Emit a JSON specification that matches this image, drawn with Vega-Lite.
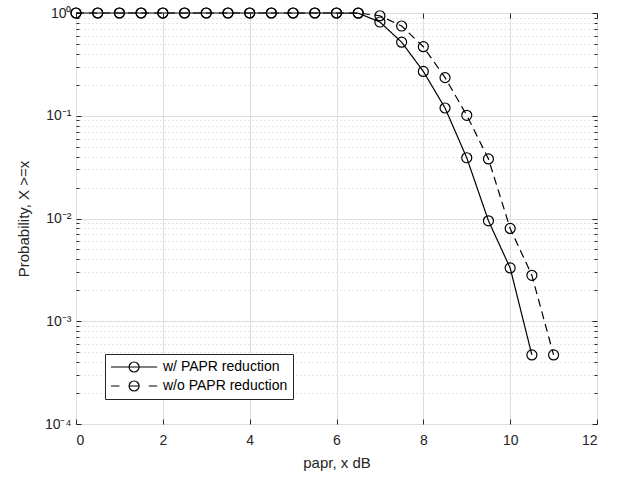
{
  "$schema": "https://vega.github.io/schema/vega-lite/v6.json",
  "width": 521,
  "height": 411,
  "autosize": {"type": "none"},
  "padding": {"left": 76, "top": 13, "right": 20, "bottom": 54},
  "config": {
    "font": "Liberation Sans",
    "view": {"stroke": "#262626", "strokeWidth": 1},
    "axis": {"labelColor": "#262626", "titleColor": "#262626", "tickColor": "#262626", "domain": false, "labelFont": "Liberation Sans", "titleFont": "Liberation Sans", "titleFontWeight": "normal", "labelFontSize": 14, "titleFontSize": 15}
  },
  "data": {"values": [
    {"x": 0, "p": 1, "series": "w/ PAPR reduction"},
    {"x": 0.5, "p": 1, "series": "w/ PAPR reduction"},
    {"x": 1, "p": 1, "series": "w/ PAPR reduction"},
    {"x": 1.5, "p": 1, "series": "w/ PAPR reduction"},
    {"x": 2, "p": 1, "series": "w/ PAPR reduction"},
    {"x": 2.5, "p": 1, "series": "w/ PAPR reduction"},
    {"x": 3, "p": 1, "series": "w/ PAPR reduction"},
    {"x": 3.5, "p": 1, "series": "w/ PAPR reduction"},
    {"x": 4, "p": 1, "series": "w/ PAPR reduction"},
    {"x": 4.5, "p": 1, "series": "w/ PAPR reduction"},
    {"x": 5, "p": 1, "series": "w/ PAPR reduction"},
    {"x": 5.5, "p": 1, "series": "w/ PAPR reduction"},
    {"x": 6, "p": 1, "series": "w/ PAPR reduction"},
    {"x": 6.5, "p": 0.995, "series": "w/ PAPR reduction"},
    {"x": 7, "p": 0.817, "series": "w/ PAPR reduction"},
    {"x": 7.5, "p": 0.52, "series": "w/ PAPR reduction"},
    {"x": 8, "p": 0.27, "series": "w/ PAPR reduction"},
    {"x": 8.5, "p": 0.119, "series": "w/ PAPR reduction"},
    {"x": 9, "p": 0.039, "series": "w/ PAPR reduction"},
    {"x": 9.5, "p": 0.0095, "series": "w/ PAPR reduction"},
    {"x": 10, "p": 0.0033, "series": "w/ PAPR reduction"},
    {"x": 10.5, "p": 0.00047, "series": "w/ PAPR reduction"},
    {"x": 0, "p": 1, "series": "w/o PAPR reduction"},
    {"x": 0.5, "p": 1, "series": "w/o PAPR reduction"},
    {"x": 1, "p": 1, "series": "w/o PAPR reduction"},
    {"x": 1.5, "p": 1, "series": "w/o PAPR reduction"},
    {"x": 2, "p": 1, "series": "w/o PAPR reduction"},
    {"x": 2.5, "p": 1, "series": "w/o PAPR reduction"},
    {"x": 3, "p": 1, "series": "w/o PAPR reduction"},
    {"x": 3.5, "p": 1, "series": "w/o PAPR reduction"},
    {"x": 4, "p": 1, "series": "w/o PAPR reduction"},
    {"x": 4.5, "p": 1, "series": "w/o PAPR reduction"},
    {"x": 5, "p": 1, "series": "w/o PAPR reduction"},
    {"x": 5.5, "p": 1, "series": "w/o PAPR reduction"},
    {"x": 6, "p": 1, "series": "w/o PAPR reduction"},
    {"x": 6.5, "p": 1, "series": "w/o PAPR reduction"},
    {"x": 7, "p": 0.94, "series": "w/o PAPR reduction"},
    {"x": 7.5, "p": 0.747, "series": "w/o PAPR reduction"},
    {"x": 8, "p": 0.47, "series": "w/o PAPR reduction"},
    {"x": 8.5, "p": 0.235, "series": "w/o PAPR reduction"},
    {"x": 9, "p": 0.101, "series": "w/o PAPR reduction"},
    {"x": 9.5, "p": 0.038, "series": "w/o PAPR reduction"},
    {"x": 10, "p": 0.008, "series": "w/o PAPR reduction"},
    {"x": 10.5, "p": 0.0028, "series": "w/o PAPR reduction"},
    {"x": 11, "p": 0.00047, "series": "w/o PAPR reduction"}
  ]},
  "resolve": {"scale": {"x": "independent", "y": "independent"}},
  "layer": [
    {
      "mark": {"type": "line", "opacity": 0},
      "encoding": {
        "x": {"field": "x", "type": "quantitative", "scale": {"domain": [0, 12], "nice": false, "zero": false},
          "axis": {"orient": "top", "values": [0, 2, 4, 6, 8, 10, 12], "labels": false, "grid": false, "tickSize": -5, "title": null}},
        "y": {"field": "p", "type": "quantitative", "scale": {"type": "log", "domain": [0.0001, 1], "nice": false},
          "axis": {"orient": "left", "values": [0.0002,0.0003,0.0004,0.0005,0.0006,0.0007,0.0008,0.0009,0.002,0.003,0.004,0.005,0.006,0.007,0.008,0.009,0.02,0.03,0.04,0.05,0.06,0.07,0.08,0.09,0.2,0.3,0.4,0.5,0.6,0.7,0.8,0.9],
            "labels": false, "grid": true, "gridColor": "#cccccc", "gridDash": [1, 3], "gridWidth": 1, "tickSize": -3, "title": null}},
        "detail": {"field": "series"}
      }
    },
    {
      "mark": {"type": "line", "opacity": 0},
      "encoding": {
        "x": {"field": "x", "type": "quantitative", "scale": {"domain": [0, 12], "nice": false, "zero": false}, "axis": null},
        "y": {"field": "p", "type": "quantitative", "scale": {"type": "log", "domain": [0.0001, 1], "nice": false},
          "axis": {"orient": "right", "values": [0.0002,0.0003,0.0004,0.0005,0.0006,0.0007,0.0008,0.0009,0.002,0.003,0.004,0.005,0.006,0.007,0.008,0.009,0.02,0.03,0.04,0.05,0.06,0.07,0.08,0.09,0.2,0.3,0.4,0.5,0.6,0.7,0.8,0.9],
            "labels": false, "grid": false, "tickSize": -3, "title": null}},
        "detail": {"field": "series"}
      }
    },
    {
      "mark": {"type": "line", "opacity": 0},
      "encoding": {
        "x": {"field": "x", "type": "quantitative", "scale": {"domain": [0, 12], "nice": false, "zero": false}, "axis": null},
        "y": {"field": "p", "type": "quantitative", "scale": {"type": "log", "domain": [0.0001, 1], "nice": false},
          "axis": {"orient": "right", "values": [0.0001, 0.001, 0.01, 0.1, 1], "labels": false, "grid": false, "tickSize": -5, "title": null}},
        "detail": {"field": "series"}
      }
    },
    {
      "mark": {"type": "line", "stroke": "black", "strokeWidth": 1.2},
      "encoding": {
        "x": {"field": "x", "type": "quantitative", "scale": {"domain": [0, 12], "nice": false, "zero": false},
          "axis": {"orient": "bottom", "values": [0, 2, 4, 6, 8, 10, 12], "grid": true, "gridColor": "#dedede", "tickSize": -5, "labelPadding": 14, "title": "papr, x dB", "titlePadding": 8}},
        "y": {"field": "p", "type": "quantitative", "scale": {"type": "log", "domain": [0.0001, 1], "nice": false},
          "axis": {"orient": "left", "values": [0.0001, 0.001, 0.01, 0.1, 1], "grid": true, "gridColor": "#dedede", "tickSize": -5, "labelPadding": 10,
            "labelExpr": "datum.value >= 0.5 ? '10⁰' : datum.value >= 0.05 ? '10⁻¹' : datum.value >= 0.005 ? '10⁻²' : datum.value >= 0.0005 ? '10⁻³' : '10⁻⁴'",
            "title": "Probability, X >=x", "titlePadding": 13}},
        "strokeDash": {"field": "series", "type": "nominal",
          "scale": {"domain": ["w/o PAPR reduction", "w/ PAPR reduction"], "range": [[8, 5], [1, 0]]},
          "legend": null}
      }
    },
    {
      "mark": {"type": "point", "filled": false, "stroke": "black", "opacity": 0},
      "encoding": {
        "x": {"field": "x", "type": "quantitative", "scale": {"domain": [0, 12], "nice": false, "zero": false}, "axis": null},
        "y": {"field": "p", "type": "quantitative", "scale": {"type": "log", "domain": [0.0001, 1], "nice": false}, "axis": null},
        "shape": {"field": "series", "type": "nominal",
          "scale": {"domain": ["w/ PAPR reduction", "w/o PAPR reduction"],
            "range": ["M-1,0H5.6M3.014,0A0.714,0.714 0 1 1 1.586,0A0.714,0.714 0 1 1 3.014,0",
                      "M-1,0H0.2M1.586,0H3.014M4.4,0H5.6M3.014,0A0.714,0.714 0 1 1 1.586,0A0.714,0.714 0 1 1 3.014,0"]},
          "legend": {"orient": "none", "legendX": 29, "legendY": 341, "title": null,
            "symbolSize": 196, "symbolStrokeColor": "black", "symbolStrokeWidth": 1.2, "symbolFillColor": "transparent", "symbolOpacity": 1,
            "labelFontSize": 14, "labelColor": "black", "labelFont": "Liberation Sans", "labelOffset": 37,
            "fillColor": "white", "strokeColor": "#262626", "padding": 5, "rowPadding": 3}}
      }
    },
    {
      "mark": {"type": "point", "shape": "circle", "filled": false, "size": 100, "stroke": "black", "strokeWidth": 1.2, "opacity": 1},
      "encoding": {
        "x": {"field": "x", "type": "quantitative", "scale": {"domain": [0, 12], "nice": false, "zero": false}, "axis": null},
        "y": {"field": "p", "type": "quantitative", "scale": {"type": "log", "domain": [0.0001, 1], "nice": false}, "axis": null}
      }
    }
  ]
}
